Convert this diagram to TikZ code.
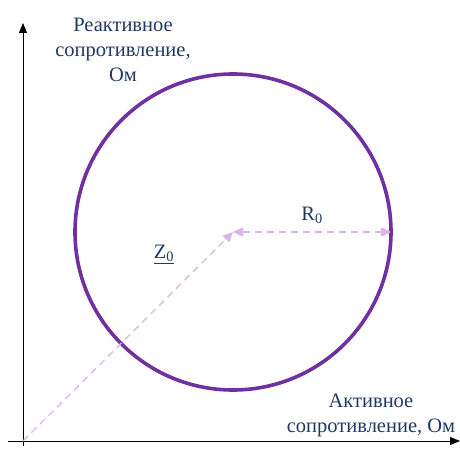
\documentclass[tikz,border=0pt]{standalone}
\usepackage{fontspec}
\setmainfont{Liberation Serif}
\usetikzlibrary{positioning,arrows.meta,calc}
\definecolor{cCircle}{HTML}{7030A0}
\definecolor{cVector}{HTML}{D9B3EA}
\definecolor{cLabel}{HTML}{1F3864}

\begin{document}
\begin{tikzpicture}[x=1pt,y=1pt,
    axis/.style={line width=0.9pt,-{Triangle[length=10pt,width=8pt]}},
    vec/.style={draw=cVector,line width=1.2pt,dash pattern=on 7pt off 5pt},
    lbl/.style={text=cLabel,font=\fontsize{20.5}{25}\selectfont,align=center,inner sep=0pt}]
  \useasboundingbox (0,0) rectangle (460,448);
  % axes
  \coordinate (O) at (23,7);
  \coordinate (xend) at (460,7);
  \coordinate (yend) at (23,425);
  \draw[axis] (8,7) -- (xend);
  \draw[axis] (23,2) -- (yend);
  % impedance circle
  \coordinate (C) at (233,216);
  \draw[cCircle,line width=3.6pt] (C) circle[radius=158];
  \coordinate (Rend) at (391,216);
  \draw[vec,-{Triangle[length=10pt,width=9pt]}] (O) -- (C);
  \draw[vec,{Triangle[length=10pt,width=9pt]}-{Triangle[length=10pt,width=9pt]}] (C) -- (Rend);
  % labels
  \node[lbl] (ylabel) at (123,398) {Реактивное\\сопротивление,\\Ом};
  \node[lbl] (xlabel) at (371,33) {Активное\\сопротивление, Ом};
  \node[lbl] (rlabel) at (312,233) {R\textsubscript{0}};
  \node[lbl] (zlabel) at (164,194) {\underline{Z\textsubscript{0}}};
\end{tikzpicture}
\end{document}
